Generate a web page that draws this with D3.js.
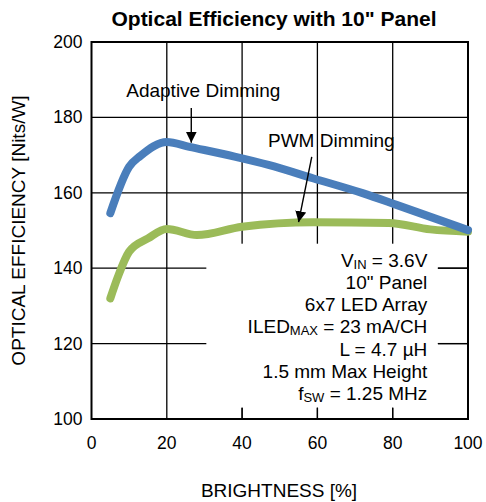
<!DOCTYPE html>
<html>
<head>
<meta charset="utf-8">
<script src="https://cdn.jsdelivr.net/npm/d3@7"></script>
<style>
  body { margin: 0; background: #fff; }
  text { font-family: "Liberation Sans", Arial, sans-serif; fill: #000; }
</style>
</head>
<body>
<div id="chart"></div>
<script>
// curve readings
var adaptiveX = [5, 10, 13, 20, 26, 38, 47, 59, 72, 81, 100];
var adaptiveY = [154.6, 166.9, 169.8, 173.5, 172.2, 169.6, 167.4, 163.8, 159.9, 156.8, 150.1];
var pwmX = [5, 7, 10, 15, 20, 28, 40, 59, 79, 90, 100];
var pwmY = [132, 137.7, 144.4, 147.9, 150.4, 148.8, 151.0, 152.2, 152.0, 150.3, 149.7];
var xTicks = [0, 20, 40, 60, 80, 100];
var yTicks = [100, 120, 140, 160, 180, 200];

var width = 486, height = 502;
var margin = {top: 42, right: 18, bottom: 83, left: 91.5};

var x = d3.scaleLinear().domain([0, 100]).range([margin.left, width - margin.right]);
var y = d3.scaleLinear().domain([100, 200]).range([height - margin.bottom, margin.top]);

var svg = d3.select("#chart").append("svg")
    .attr("width", width)
    .attr("height", height);

// grid
svg.append("g")
    .selectAll("line.v")
    .data(xTicks.slice(1, -1))
  .enter().append("line")
    .attr("x1", function(d) { return x(d); })
    .attr("x2", function(d) { return x(d); })
    .attr("y1", y(200))
    .attr("y2", y(100))
    .attr("stroke", "#000")
    .attr("stroke-width", 1.3);

svg.append("g")
    .selectAll("line.h")
    .data(yTicks.slice(1, -1))
  .enter().append("line")
    .attr("x1", x(0))
    .attr("x2", x(100))
    .attr("y1", function(d) { return y(d); })
    .attr("y2", function(d) { return y(d); })
    .attr("stroke", "#000")
    .attr("stroke-width", 1.3);

// white box behind the conditions text
svg.append("rect")
    .attr("x", x(30.5))
    .attr("y", y(146.5))
    .attr("width", x(92) - x(30.5))
    .attr("height", y(103) - y(146.5))
    .attr("fill", "#fff");

// frame
svg.append("rect")
    .attr("x", x(0))
    .attr("y", y(200))
    .attr("width", x(100) - x(0))
    .attr("height", y(100) - y(200))
    .attr("fill", "none")
    .attr("stroke", "#000")
    .attr("stroke-width", 2);

// short ticks where the box hides the grid
svg.append("g")
    .selectAll("line")
    .data([40, 60, 80])
  .enter().append("line")
    .attr("x1", function(d) { return x(d); })
    .attr("x2", function(d) { return x(d); })
    .attr("y1", y(100))
    .attr("y2", y(103))
    .attr("stroke", "#000")
    .attr("stroke-width", 1.3);

svg.append("g")
    .selectAll("line")
    .data([120, 140])
  .enter().append("line")
    .attr("x1", x(92))
    .attr("x2", x(100))
    .attr("y1", function(d) { return y(d); })
    .attr("y2", function(d) { return y(d); })
    .attr("stroke", "#000")
    .attr("stroke-width", 1.3);

// tick labels
svg.append("g")
    .selectAll("text")
    .data(yTicks)
  .enter().append("text")
    .attr("x", x(0) - 9)
    .attr("y", function(d) { return y(d) + 6; })
    .attr("text-anchor", "end")
    .style("font-size", "17.5px")
    .text(function(d) { return d; });

svg.append("g")
    .selectAll("text")
    .data(xTicks)
  .enter().append("text")
    .attr("x", function(d) { return x(d); })
    .attr("y", y(100) + 30)
    .attr("text-anchor", "middle")
    .style("font-size", "17.5px")
    .text(function(d) { return d; });

// titles
svg.append("text")
    .attr("x", 274)
    .attr("y", 26)
    .attr("text-anchor", "middle")
    .style("font-size", "21px")
    .style("font-weight", "bold")
    .text("Optical Efficiency with 10\" Panel");

svg.append("text")
    .attr("x", 279)
    .attr("y", 497)
    .attr("text-anchor", "middle")
    .style("font-size", "19px")
    .text("BRIGHTNESS [%]");

svg.append("text")
    .attr("transform", "translate(25," + ((y(100) + y(200)) / 2) + ") rotate(-90)")
    .attr("text-anchor", "middle")
    .style("font-size", "19px")
    .text("OPTICAL EFFICIENCY [Nits/W]");

// curves
var line = d3.line()
    .x(function(d) { return x(d[0]); })
    .y(function(d) { return y(d[1]); })
    .curve(d3.curveMonotoneX);

svg.append("path")
    .datum(d3.zip(pwmX, pwmY))
    .attr("d", line)
    .attr("fill", "none")
    .attr("stroke", "#9bbb59")
    .attr("stroke-width", 8)
    .attr("stroke-linecap", "round")
    .attr("stroke-linejoin", "round");

svg.append("path")
    .datum(d3.zip(adaptiveX, adaptiveY))
    .attr("d", line)
    .attr("fill", "none")
    .attr("stroke", "#4a7ebb")
    .attr("stroke-width", 8)
    .attr("stroke-linecap", "round")
    .attr("stroke-linejoin", "round");

// arrows
svg.append("defs").append("marker")
    .attr("id", "head")
    .attr("viewBox", "0 0 10 10")
    .attr("refX", 10)
    .attr("refY", 5)
    .attr("markerWidth", 11)
    .attr("markerHeight", 11)
    .attr("markerUnits", "userSpaceOnUse")
    .attr("orient", "auto")
  .append("path")
    .attr("d", "M0,0 L10,5 L0,10 Z")
    .attr("fill", "#000");

svg.append("line")
    .attr("x1", x(26.5)).attr("y1", y(182.5))
    .attr("x2", x(26.5)).attr("y2", y(173.3))
    .attr("stroke", "#000")
    .attr("stroke-width", 1.4)
    .attr("marker-end", "url(#head)");

svg.append("line")
    .attr("x1", x(58.5)).attr("y1", y(169.5))
    .attr("x2", x(55.0)).attr("y2", y(152.2))
    .attr("stroke", "#000")
    .attr("stroke-width", 1.4)
    .attr("marker-end", "url(#head)");

svg.append("text")
    .attr("x", x(29.7))
    .attr("y", y(185.5))
    .attr("text-anchor", "middle")
    .style("font-size", "19px")
    .text("Adaptive Dimming");

svg.append("text")
    .attr("x", x(63.7))
    .attr("y", y(172.2))
    .attr("text-anchor", "middle")
    .style("font-size", "19px")
    .text("PWM Dimming");

// conditions
var notes = [
  [["V", ""], ["IN", "sub"], [" = 3.6V", ""]],
  [["10\" Panel", ""]],
  [["6x7 LED Array", ""]],
  [["ILED", ""], ["MAX", "sub"], [" = 23 mA/CH", ""]],
  [["L = 4.7 \u00b5H", ""]],
  [["1.5 mm Max Height", ""]],
  [["f", ""], ["SW", "sub"], [" = 1.25 MHz", ""]]
];

var notesG = svg.append("g");
notes.forEach(function(parts, i) {
  var t = notesG.append("text")
      .attr("x", x(89.2))
      .attr("y", 266.5 + i * 22.3)
      .attr("text-anchor", "end")
      .style("font-size", "19px");
  parts.forEach(function(p, j) {
    var prev = j > 0 ? parts[j - 1][1] : "";
    var ts = t.append("tspan").text(p[0]);
    if (p[1] === "sub") {
      ts.style("font-size", "13px").attr("dy", 2);
    } else if (prev === "sub") {
      ts.attr("dy", -2);
    }
  });
});
</script>
</body>
</html>
